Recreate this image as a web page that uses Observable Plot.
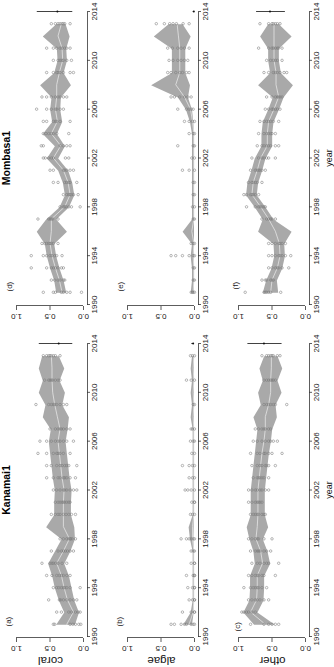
<!DOCTYPE html>
<html>
<head>
<meta charset="utf-8">
<script src="https://cdn.jsdelivr.net/npm/d3@7"></script>
<script src="https://cdn.jsdelivr.net/npm/@observablehq/plot@0.6"></script>
<style>
html, body { margin: 0; padding: 0; background: #fff; overflow: hidden; }
#fig { position: absolute; left: 0; top: 0; width: 667px; height: 334px;
  transform-origin: 0 0; transform: translate(0, 667px) rotate(-90deg);
  font-family: "Liberation Sans", Arial, sans-serif; }
#fig svg { position: absolute; overflow: visible; }
</style>
</head>
<body>
<div id="fig"></div>
<script>
// ---------- data ----------
const sites = ["Kanamai1", "Mombasa1"];
const groups = ["coral", "algae", "other"];
const letters = [["(a)", "(b)", "(c)"], ["(d)", "(e)", "(f)"]];
const xTicks = [1990, 1994, 1998, 2002, 2006, 2010, 2014];
const yTicks = [0, 0.5, 1];

// model years (ribbon + mean line)
const years = [1991,1992,1993,1994,1995,1996,1997,1998,1999,2000,2001,2002,2003,2004,2005,2006,2007,2008,2009,2010,2011,2012,2013];

// survey years (observations)
const kanYears = [1991,1992,1993,1994,1995,1996,1997,1998,2000,2001,2002,2003,2004,2005,2006,2007,2009,2011,2013];
const momYears = [1991,1992,1993,1994,1995,1997,1998,1999,2000,2001,2002,2003,2004,2005,2006,2007,2009,2010,2011,2013];

// (a) Kanamai1 coral
const kanCoralMean = [0.25,0.15,0.24,0.29,0.33,0.40,0.30,0.21,0.30,0.30,0.30,0.29,0.32,0.34,0.36,0.38,0.35,0.39,0.43,0.46,0.47,0.47,0.48];
const kanCoralLo   = [0.12,0.06,0.13,0.17,0.21,0.28,0.19,0.12,0.13,0.18,0.18,0.17,0.20,0.22,0.24,0.26,0.23,0.21,0.31,0.27,0.35,0.28,0.36];
const kanCoralHi   = [0.40,0.28,0.36,0.42,0.46,0.52,0.42,0.32,0.55,0.43,0.43,0.42,0.45,0.47,0.49,0.51,0.48,0.60,0.56,0.66,0.60,0.66,0.61];
const kanCoralObs = [
  [0.45,0.43,0.20,0.16,0.12,0.07,0.04],
  [0.40,0.33,0.22,0.18,0.12,0.08,0.05],
  [0.52,0.36,0.34,0.30,0.25,0.20,0.15,0.10],
  [0.45,0.40,0.37,0.33,0.30,0.28,0.25,0.20,0.05],
  [0.55,0.47,0.40,0.36,0.33,0.30,0.25,0.20],
  [0.62,0.50,0.47,0.45,0.42,0.38,0.32,0.25],
  [0.48,0.38,0.33,0.30,0.27,0.24,0.20,0.15],
  [0.35,0.30,0.25,0.22,0.20,0.19,0.17,0.12],
  [0.48,0.42,0.38,0.35,0.30,0.26,0.22,0.18,0.12],
  [0.42,0.38,0.35,0.32,0.30,0.28,0.25,0.22,0.20],
  [0.45,0.40,0.35,0.30,0.28,0.25,0.20,0.15,0.10],
  [0.55,0.45,0.38,0.35,0.30,0.28,0.25,0.20,0.12],
  [0.55,0.48,0.40,0.35,0.32,0.28,0.25,0.22,0.10],
  [0.68,0.55,0.45,0.40,0.38,0.35,0.30,0.20],
  [0.65,0.55,0.48,0.42,0.38,0.35,0.30,0.25,0.15],
  [0.50,0.42,0.38,0.35,0.33,0.30,0.25,0.20],
  [0.71,0.52,0.48,0.45,0.43,0.40,0.35,0.30,0.25],
  [0.58,0.52,0.50,0.48,0.46,0.42,0.38,0.35],
  [0.60,0.55,0.52,0.50,0.48,0.45,0.42,0.35]
];

// (b) Kanamai1 algae
const kanAlgaeMean = [0.08,0.02,0.01,0.01,0.01,0.01,0.01,0.03,0.03,0.01,0.01,0.01,0.01,0.01,0.01,0.01,0.01,0.02,0.01,0.02,0.01,0.02,0.01];
const kanAlgaeLo   = [0.03,0.005,0,0,0,0,0,0.01,0.005,0,0,0,0,0,0,0,0,0,0,0,0,0,0];
const kanAlgaeHi   = [0.16,0.05,0.02,0.02,0.02,0.02,0.02,0.06,0.08,0.02,0.02,0.02,0.02,0.02,0.02,0.02,0.02,0.05,0.03,0.05,0.03,0.05,0.03];
const kanAlgaeObs = [
  [0.35,0.30,0.20,0.15,0.12,0.05,0.02,0],
  [0.18,0.05,0,0],
  [0.08,0.03,0,0],
  [0.10,0.03,0,0],
  [0.12,0.02,0,0],
  [0.05,0,0],
  [0.05,0.02,0],
  [0.20,0.12,0.08,0.05,0.02,0],
  [0.06,0.03,0],
  [0.04,0,0],
  [0.14,0.10,0.05,0],
  [0.08,0.03,0],
  [0.18,0.08,0.03,0],
  [0.04,0],
  [0.06,0.02,0],
  [0.05,0.03,0],
  [0.02,0],
  [0.12,0.05,0],
  [0.06,0.03,0]
];

// (c) Kanamai1 other
const kanOtherMean = [0.60,0.82,0.73,0.72,0.72,0.64,0.67,0.74,0.72,0.71,0.71,0.71,0.69,0.67,0.65,0.62,0.60,0.60,0.55,0.52,0.52,0.51,0.51];
const kanOtherLo   = [0.45,0.71,0.62,0.61,0.61,0.52,0.56,0.63,0.55,0.60,0.60,0.60,0.58,0.56,0.54,0.51,0.49,0.42,0.44,0.35,0.41,0.34,0.41];
const kanOtherHi   = [0.76,0.92,0.83,0.82,0.82,0.75,0.77,0.83,0.87,0.81,0.81,0.81,0.79,0.77,0.75,0.73,0.71,0.77,0.66,0.70,0.63,0.68,0.61];
const kanOtherObs = [
  [0.82,0.62,0.55,0.50,0.45,0.40],
  [0.95,0.92,0.88,0.85,0.80,0.75],
  [0.85,0.80,0.75,0.72,0.68,0.62,0.55],
  [0.92,0.82,0.78,0.75,0.72,0.70,0.65,0.58],
  [0.85,0.80,0.75,0.72,0.70,0.65,0.62,0.45],
  [0.80,0.72,0.68,0.62,0.58,0.55,0.40],
  [0.82,0.75,0.72,0.70,0.68,0.62,0.58,0.52],
  [0.85,0.80,0.75,0.72,0.70,0.62,0.50],
  [0.82,0.78,0.75,0.72,0.70,0.65,0.62,0.60],
  [0.85,0.80,0.75,0.72,0.70,0.68,0.65],
  [0.85,0.80,0.75,0.72,0.68,0.65,0.60,0.55],
  [0.78,0.72,0.70,0.68,0.65,0.62,0.55],
  [0.80,0.72,0.68,0.65,0.60,0.58,0.55,0.45],
  [0.82,0.72,0.68,0.62,0.60,0.55,0.50,0.35],
  [0.78,0.72,0.65,0.60,0.55,0.52,0.48,0.42],
  [0.75,0.70,0.65,0.62,0.60,0.55,0.52],
  [0.62,0.58,0.55,0.52,0.48,0.45,0.28],
  [0.62,0.58,0.55,0.52,0.50,0.48,0.45],
  [0.65,0.58,0.55,0.52,0.50,0.48,0.42,0.38]
];

// (d) Mombasa1 coral
const momCoralMean = [0.32,0.36,0.42,0.47,0.50,0.48,0.48,0.28,0.20,0.23,0.30,0.45,0.34,0.48,0.39,0.42,0.40,0.40,0.36,0.31,0.32,0.38,0.33];
const momCoralLo   = [0.25,0.29,0.35,0.40,0.43,0.24,0.40,0.21,0.13,0.16,0.22,0.37,0.27,0.39,0.31,0.34,0.33,0.18,0.29,0.24,0.25,0.20,0.26];
const momCoralHi   = [0.40,0.43,0.49,0.54,0.57,0.69,0.55,0.35,0.27,0.30,0.37,0.54,0.42,0.60,0.46,0.49,0.47,0.64,0.43,0.38,0.39,0.60,0.40];
const momCoralObs = [
  [0.60,0.45,0.42,0.33,0.30,0.25,0.20,0.03],
  [0.48,0.43,0.38,0.35,0.30,0.28],
  [0.78,0.55,0.48,0.45,0.42,0.38,0.33,0.30],
  [0.78,0.60,0.55,0.50,0.47,0.43,0.40,0.32],
  [0.62,0.58,0.55,0.52,0.50,0.48,0.45,0.38],
  [0.68,0.52,0.50,0.48,0.46,0.38],
  [0.35,0.30,0.28,0.26,0.22,0.18,0.05],
  [0.30,0.25,0.22,0.20,0.18,0.15,0.08],
  [0.45,0.38,0.28,0.25,0.22,0.20,0.10],
  [0.50,0.45,0.30,0.28,0.25,0.20,0.15],
  [0.60,0.57,0.52,0.48,0.45,0.27,0.22],
  [0.63,0.60,0.35,0.30,0.25,0.20],
  [0.60,0.56,0.52,0.48,0.45,0.40,0.22],
  [0.60,0.55,0.45,0.42,0.40,0.35,0.20],
  [0.70,0.55,0.48,0.42,0.40,0.35,0.30],
  [0.62,0.55,0.48,0.42,0.38,0.35,0.30,0.25],
  [0.55,0.45,0.40,0.38,0.35,0.30,0.20,0.15],
  [0.45,0.38,0.35,0.32,0.30,0.25,0.18],
  [0.55,0.45,0.40,0.35,0.32,0.28,0.25,0.20],
  [0.48,0.42,0.38,0.35,0.32,0.30,0.28,0.20]
];

// (e) Mombasa1 algae
const momAlgaeMean = [0.02,0.01,0.01,0.02,0.01,0.04,0.01,0.01,0.01,0.01,0.01,0.01,0.01,0.01,0.03,0.06,0.15,0.28,0.22,0.22,0.22,0.24,0.26];
const momAlgaeLo   = [0,0,0,0,0,0,0,0,0,0,0,0,0,0,0.01,0.03,0.09,0.06,0.13,0.13,0.13,0.05,0.17];
const momAlgaeHi   = [0.05,0.03,0.03,0.05,0.03,0.17,0.03,0.03,0.03,0.03,0.03,0.03,0.03,0.03,0.06,0.12,0.24,0.64,0.33,0.33,0.33,0.60,0.38];
const momAlgaeObs = [
  [0.05,0.03,0.02,0],
  [0.02,0],
  [0.02,0],
  [0.35,0.28,0.18,0.08,0.02,0],
  [0.05,0.02,0],
  [0.02,0],
  [0.03,0],
  [0.02,0],
  [0.02,0],
  [0.18,0.08,0],
  [0.04,0],
  [0.25,0.02,0],
  [0.08,0.02,0],
  [0.15,0.08,0.03,0],
  [0.25,0.12,0.08,0.05,0.02],
  [0.35,0.30,0.22,0.15,0.10,0.05],
  [0.40,0.35,0.28,0.22,0.18,0.12,0.08],
  [0.38,0.32,0.25,0.20,0.15,0.10],
  [0.40,0.33,0.25,0.20,0.15,0.08],
  [0.57,0.45,0.37,0.32,0.27,0.17,0.08]
];

// (f) Mombasa1 other
const momOtherMean = [0.52,0.50,0.42,0.38,0.39,0.45,0.55,0.67,0.80,0.78,0.72,0.67,0.57,0.57,0.55,0.47,0.40,0.44,0.44,0.47,0.47,0.47,0.47];
const momOtherLo   = [0.40,0.42,0.34,0.30,0.31,0.20,0.47,0.59,0.72,0.70,0.64,0.59,0.49,0.49,0.47,0.39,0.32,0.18,0.36,0.39,0.39,0.20,0.39];
const momOtherHi   = [0.63,0.58,0.50,0.46,0.47,0.70,0.63,0.75,0.88,0.86,0.80,0.75,0.65,0.65,0.63,0.55,0.48,0.70,0.52,0.55,0.55,0.67,0.55];
const momOtherObs = [
  [0.90,0.62,0.60,0.58,0.55,0.52,0.37],
  [0.65,0.60,0.58,0.52,0.50,0.48],
  [0.55,0.50,0.45,0.42,0.40,0.35,0.25],
  [0.55,0.50,0.45,0.40,0.38,0.35,0.30,0.22],
  [0.55,0.50,0.45,0.40,0.38,0.35,0.30],
  [0.65,0.58,0.55,0.52,0.50,0.45],
  [0.88,0.75,0.70,0.68,0.65,0.62,0.60],
  [0.92,0.88,0.82,0.80,0.78,0.75,0.70],
  [0.85,0.80,0.78,0.75,0.72,0.65],
  [0.82,0.75,0.72,0.70,0.68,0.65,0.60],
  [0.80,0.70,0.65,0.62,0.58,0.55,0.45],
  [0.72,0.65,0.62,0.58,0.55,0.52,0.45,0.40],
  [0.70,0.62,0.58,0.55,0.52,0.50,0.45],
  [0.68,0.62,0.58,0.55,0.52,0.48,0.40],
  [0.60,0.55,0.50,0.48,0.45,0.42,0.38],
  [0.58,0.50,0.45,0.42,0.40,0.38,0.35],
  [0.62,0.55,0.48,0.45,0.42,0.38,0.32,0.28],
  [0.58,0.52,0.48,0.45,0.42,0.35],
  [0.70,0.55,0.50,0.48,0.45,0.42,0.40,0.35],
  [0.68,0.55,0.50,0.48,0.45,0.42,0.38]
];

// error bar drawn at the right edge (low, point, high) per panel a..f
const errLo  = [0.16, 0.00, 0.35, 0.16, 0.00, 0.30];
const errMid = [0.37, 0.02, 0.62, 0.39, 0.01, 0.53];
const errHi  = [0.66, 0.04, 0.86, 0.69, 0.02, 0.73];

// ---------- assemble ----------
const series = [
  [
    {mean: kanCoralMean, lo: kanCoralLo, hi: kanCoralHi, obs: kanCoralObs},
    {mean: kanAlgaeMean, lo: kanAlgaeLo, hi: kanAlgaeHi, obs: kanAlgaeObs},
    {mean: kanOtherMean, lo: kanOtherLo, hi: kanOtherHi, obs: kanOtherObs}
  ],
  [
    {mean: momCoralMean, lo: momCoralLo, hi: momCoralHi, obs: momCoralObs},
    {mean: momAlgaeMean, lo: momAlgaeLo, hi: momAlgaeHi, obs: momAlgaeObs},
    {mean: momOtherMean, lo: momOtherLo, hi: momOtherHi, obs: momOtherObs}
  ]
];
const surveyYears = [kanYears, momYears];

// layout (style only)
const colLeft = [0, 332];
const colWidth = [332, 335];
const rowTop = [0, 111, 222];
const rowHeight = [111, 111, 112];
const xRangeL = 30, xRangeR = 323, yRange0 = 83, yRange1 = 16, frameTop = 13, frameBottom = 87;
const letterDx = [[10, 10, 5], [13, 13, 15]];
const letterY = [[7.5, 7.5, 15], [8.5, 8.5, 12.5]];

const fig = document.getElementById("fig");
const axisColor = "#333";

sites.forEach((site, si) => {
  groups.forEach((grp, gi) => {
    const d = series[si][gi];
    const width = colWidth[si], height = rowHeight[gi];
    const model = years.map((t, i) => ({t, m: d.mean[i], lo: d.lo[i], hi: d.hi[i]}));
    const obs = surveyYears[si].flatMap((t, k) => d.obs[k].map(v => ({t, v})));
    const pi = si * 3 + gi;
    const err = [{t: xTicks[xTicks.length - 1], lo: errLo[pi], c: errMid[pi], hi: errHi[pi]}];
    const marks = [
      Plot.areaY(model, {x: "t", y1: "lo", y2: "hi", fill: "#a9a9a9"}),
      Plot.lineY(model, {x: "t", y: "m", stroke: "#e6e6e6", strokeWidth: 0.8}),
      Plot.dot(obs, {x: "t", y: "v", r: 1.25, stroke: "#7a7a7a", strokeWidth: 0.55, fill: "none"}),
      Plot.ruleX(err, {x: "t", y1: "lo", y2: "hi", stroke: "#111", strokeWidth: 0.8}),
      Plot.dot(err, {x: "t", y: "c", r: 1, fill: "#111", stroke: null}),
      // R-style axis lines
      Plot.ruleX([xTicks[0]], {y1: yTicks[0], y2: yTicks[yTicks.length - 1], stroke: axisColor, strokeWidth: 0.8, dx: -1}),
      Plot.ruleY([yTicks[0]], {x1: xTicks[0], x2: xTicks[xTicks.length - 1], stroke: axisColor, strokeWidth: 0.8, dy: 4}),
      Plot.axisY({ticks: yTicks, tickFormat: d3.format(".1f"), tickSize: 4, tickRotate: -90, tickPadding: 4, fontSize: 8, label: null, stroke: axisColor, strokeWidth: 0.8, dx: -1}),
      Plot.axisX({ticks: xTicks, tickFormat: v => String(v), tickSize: 3, tickPadding: 1, fontSize: 8, label: null, stroke: axisColor, strokeWidth: 0.8}),
      Plot.text([letters[si][gi]], {frameAnchor: "top-left", dx: letterDx[si][gi], dy: letterY[si][gi] - frameTop, textAnchor: "start", lineAnchor: "middle", fontSize: 8, fill: "#222"})
    ];
    if (si === 0) {
      marks.push(Plot.text([grp], {frameAnchor: "left", dx: -20, rotate: -90, textAnchor: "middle", lineAnchor: "bottom", fontSize: 11.5, fill: "#111"}));
    }
    if (gi === 0) {
      marks.push(Plot.text([site], {frameAnchor: "top", dy: -4, lineAnchor: "bottom", fontSize: 10.5, fontWeight: "bold", fill: "#000"}));
    }
    if (gi === groups.length - 1) {
      marks.push(Plot.text(["year"], {frameAnchor: "bottom", dy: 22, lineAnchor: "bottom", fontSize: 9, fill: "#111"}));
    }
    const svg = Plot.plot({
      width, height,
      marginLeft: xRangeL, marginRight: width - xRangeR,
      marginTop: frameTop, marginBottom: height - frameBottom,
      x: {domain: [xTicks[0], xTicks[xTicks.length - 1]], range: [xRangeL, xRangeR]},
      y: {domain: [yTicks[0], yTicks[yTicks.length - 1]], range: [yRange0, yRange1]},
      style: {background: "transparent", fontFamily: "Liberation Sans, Arial, sans-serif", color: "#222"},
      marks
    });
    svg.style.left = colLeft[si] + "px";
    svg.style.top = rowTop[gi] + "px";
    fig.appendChild(svg);
  });
});
</script>
</body>
</html>
